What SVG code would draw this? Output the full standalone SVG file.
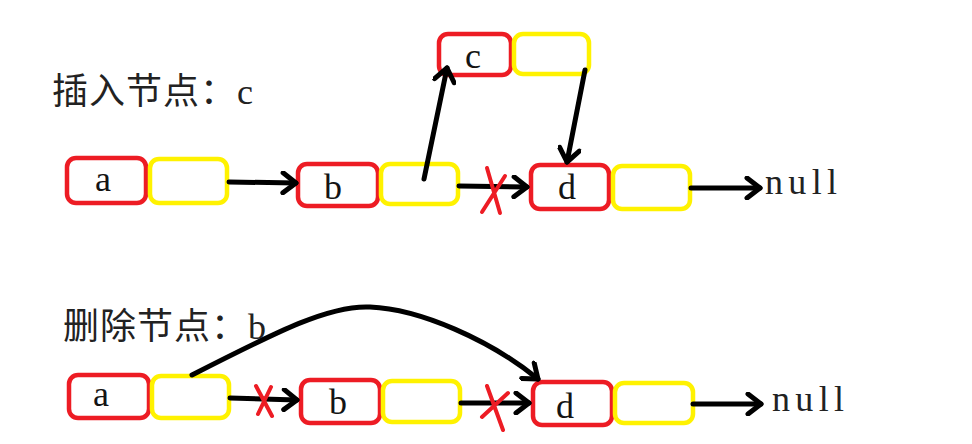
<svg xmlns="http://www.w3.org/2000/svg" width="972" height="444" viewBox="0 0 972 444">
<defs>
<style>
.bg{fill:#ffffff}
.r{fill:none;stroke:#ED1C24;stroke-width:4.5}
.y{fill:none;stroke:#FFF200;stroke-width:4.5}
.t{font-family:"Liberation Serif","Noto Sans CJK SC",serif;font-size:36px;fill:#222}
.title{letter-spacing:1px}
.lbl{font-family:"Liberation Serif",serif;font-size:36px;fill:#141414;text-anchor:middle}
.c{fill:none;stroke:#000;stroke-width:5;stroke-linecap:round;stroke-linejoin:round}
.x{fill:none;stroke:#ED1C24;stroke-width:4;stroke-linecap:round}
</style>
<marker id="ah" viewBox="-16 -12 20 24" markerWidth="20" markerHeight="24" refX="0" refY="0" orient="auto" markerUnits="userSpaceOnUse">
<path d="M-13,-10 L0,0 L-13,10" fill="none" stroke="#000" stroke-width="5" stroke-linecap="round" stroke-linejoin="round"/>
</marker>
</defs>
<rect class="bg" x="0" y="0" width="972" height="444"/>

<text class="t title" x="52" y="104">插入节点：c</text>
<text class="t title" x="63" y="339">删除节点：b</text>

<g id="top-a">
<rect class="r" x="67" y="158" width="79" height="45" rx="9"/>
<rect class="y" x="150" y="159" width="77" height="44" rx="9"/>
<text class="lbl" x="103" y="191">a</text>
</g>
<g id="top-b">
<rect class="r" x="298" y="164" width="80" height="42" rx="9"/>
<rect class="y" x="381" y="164" width="77" height="40" rx="9"/>
<text class="lbl" x="333" y="199">b</text>
</g>
<g id="top-c">
<rect class="r" x="439" y="34" width="72" height="41" rx="9"/>
<rect class="y" x="514" y="34" width="75" height="40" rx="9"/>
<text class="lbl" x="473" y="68">c</text>
</g>
<g id="top-d">
<rect class="r" x="531" y="165" width="78" height="44" rx="9"/>
<rect class="y" x="613" y="166" width="77" height="43" rx="9"/>
<text class="lbl" x="567" y="199">d</text>
</g>
<g id="top-null">
<text class="t" x="765" y="194" textLength="72">null</text>
</g>

<g id="bot-a">
<rect class="r" x="69" y="375" width="80" height="43" rx="9"/>
<rect class="y" x="152" y="376" width="77" height="42" rx="9"/>
<text class="lbl" x="101" y="406">a</text>
</g>
<g id="bot-b">
<rect class="r" x="301" y="380" width="79" height="43" rx="9"/>
<rect class="y" x="383" y="381" width="77" height="41" rx="9"/>
<text class="lbl" x="338" y="414">b</text>
</g>
<g id="bot-d">
<rect class="r" x="533" y="382" width="79" height="43" rx="9"/>
<rect class="y" x="615" y="383" width="78" height="40" rx="9"/>
<text class="lbl" x="565" y="418">d</text>
</g>
<g id="bot-null">
<text class="t" x="772" y="411" textLength="72">null</text>
</g>

<g id="connectors">
<path class="c" d="M229,182 L296,183" marker-end="url(#ah)"/>
<path class="c" d="M424,179 L447,68" marker-end="url(#ah)"/>
<path class="c" d="M585,70 L567,162" marker-end="url(#ah)"/>
<path class="c" d="M459,186 L527,187" marker-end="url(#ah)"/>
<path class="c" d="M691,188 L760,188" marker-end="url(#ah)"/>
<path class="c" d="M230,398 L297,400" marker-end="url(#ah)"/>
<path class="c" d="M461,403 L529,403" marker-end="url(#ah)"/>
<path class="c" d="M693,404 L761,404" marker-end="url(#ah)"/>
<path class="c" d="M192,375 C280,330 330,305 370,307 C420,309 490,340 538,379" marker-end="url(#ah)"/>
</g>

<g id="cut-marks">
<path class="x" d="M487,168 L500,213 M505,176 L482,212"/>
<path class="x" d="M256,386 L272,416 M271,387 L258,414"/>
<path class="x" d="M487,386 L503,430 M508,393 L482,417"/>
</g>
</svg>
